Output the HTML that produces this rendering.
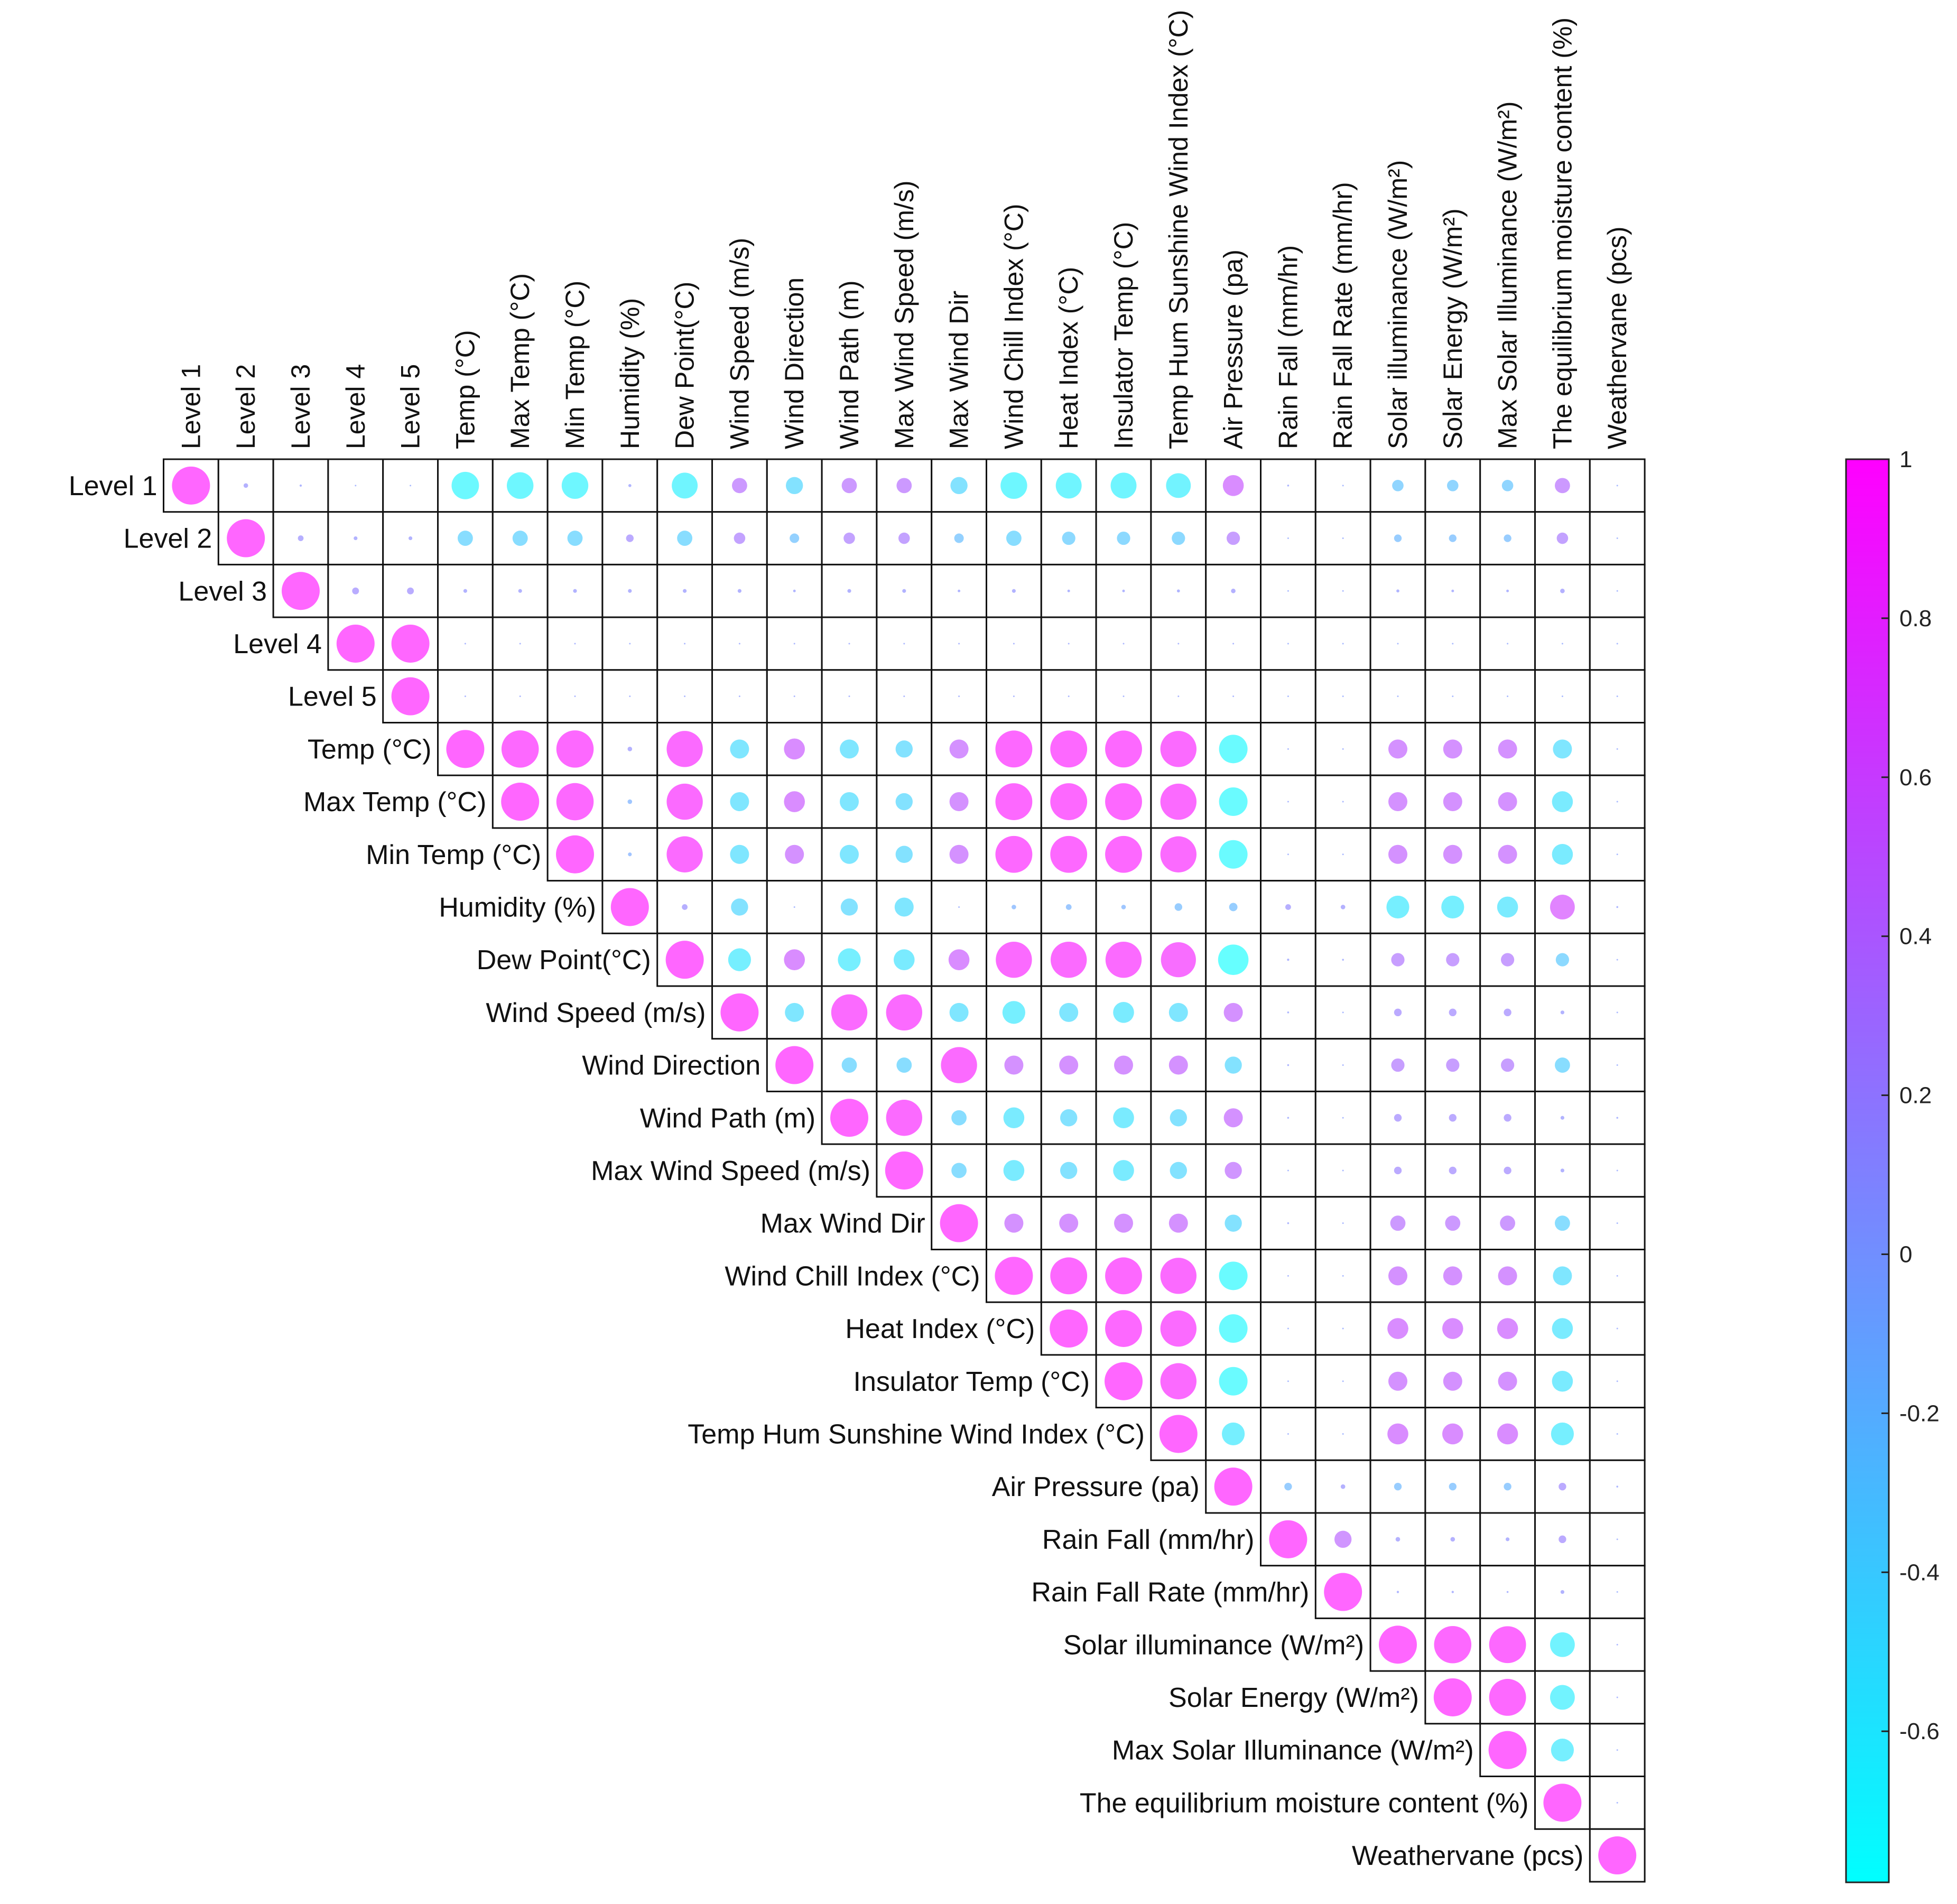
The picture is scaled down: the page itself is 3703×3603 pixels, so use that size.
<!DOCTYPE html>
<html><head><meta charset="utf-8"><style>
html,body{margin:0;padding:0;background:#fff;}
svg{display:block;font-family:"Liberation Sans",Arial,sans-serif;}
</style></head><body>
<svg id="chart" width="3703" height="3603" viewBox="0 0 3703 3603" xmlns="http://www.w3.org/2000/svg">
<g id="grid"></g>
<g id="dots"></g>
<g id="collabels"></g>
<g id="rowlabels"></g>
<g id="cbar"></g>
</svg>
<script>
const variables = ["Level 1","Level 2","Level 3","Level 4","Level 5","Temp (°C)","Max Temp (°C)","Min Temp (°C)","Humidity (%)","Dew Point(°C)","Wind Speed (m/s)","Wind Direction","Wind Path (m)","Max Wind Speed (m/s)","Max Wind Dir","Wind Chill Index (°C)","Heat Index (°C)","Insulator Temp (°C)","Temp Hum Sunshine Wind Index (°C)","Air Pressure (pa)","Rain Fall (mm/hr)","Rain Fall Rate (mm/hr)","Solar illuminance (W/m²)","Solar Energy (W/m²)","Max Solar Illuminance (W/m²)","The equilibrium moisture content (%)","Weathervane (pcs)"];
// upper triangle rows: row i holds values for columns i..26
const row0 = [1,.12,.06,.02,.01,-.72,-.7,-.7,.08,-.68,.4,-.45,.4,.4,-.45,-.7,-.68,-.68,-.65,.55,.05,.01,-.3,-.3,-.3,.4,.01];
const row1 = [1,.15,.1,.1,-.4,-.4,-.4,.2,-.4,.3,-.25,.3,.3,-.25,-.4,-.35,-.35,-.35,.35,.01,.01,-.2,-.2,-.2,.3,0];
const row2 = [1,.18,.18,.1,.1,.1,.1,.1,.1,.07,.1,.1,.07,.1,.07,.07,.08,.12,.01,0,.08,.07,.07,.12,.01];
const row3 = [1,1,.04,.04,.04,.03,.03,.04,.04,.04,.04,.04,.04,.04,.04,.04,.04,.01,0,.01,.01,.01,.01,.01];
const row4 = [1,.04,.04,.04,.03,.03,.04,.04,.04,.04,.04,.04,.04,.04,.04,.04,.01,0,.01,.01,.01,.01,.01];
const row5 = [1,.98,.98,.12,.95,-.5,.55,-.5,-.45,.5,.97,.97,.97,.95,-.75,.02,.02,.5,.5,.5,-.5,.01];
const row6 = [1,.98,-.12,.95,-.5,.55,-.5,-.45,.5,.97,.97,.97,.95,-.75,.03,.02,.5,.5,.5,-.55,.01];
const row7 = [1,-.1,.95,-.5,.5,-.5,-.45,.5,.97,.97,.97,.95,-.75,.02,.02,.5,.5,.5,-.55,.01];
const row8 = [1,.15,-.45,.01,-.45,-.5,.01,-.12,-.15,-.12,-.2,-.22,.15,.12,-.6,-.6,-.55,.65,.05];
const row9 = [1,-.6,.55,-.6,-.55,.55,.95,.95,.95,.92,-.8,.06,.05,.35,.35,.35,-.35,.02];
const row10 = [1,-.5,.95,.95,-.5,-.6,-.5,-.55,-.5,.5,.05,.02,.2,.2,.2,.1,.03];
const row11 = [1,-.4,-.4,.95,.5,.5,.5,.5,-.45,.05,.03,.35,.35,.35,-.4,.01];
const row12 = [1,.95,-.4,-.55,-.45,-.55,-.45,.5,.05,.02,.2,.2,.2,.1,.05];
const row13 = [1,-.4,-.55,-.45,-.55,-.45,.45,.02,.01,.2,.2,.2,.1,.02];
const row14 = [1,.5,.5,.5,.5,-.45,.05,.02,.4,.4,.4,-.4,.01];
const row15 = [1,.97,.97,.95,-.75,.02,.02,.5,.5,.5,-.5,.02];
const row16 = [1,.97,.95,-.75,.01,.01,.55,.55,.55,-.55,.02];
const row17 = [1,.95,-.75,.01,.01,.5,.5,.5,-.55,.02];
const row18 = [1,-.6,.01,0,.55,.55,.55,-.6,.01];
const row19 = [1,-.2,.12,-.2,-.2,-.2,.2,.05];
const row20 = [1,.45,.12,.12,.1,.2,.03];
const row21 = [1,.06,.06,.05,.1,0];
const row22 = [1,.98,.97,-.65,.04];
const row23 = [1,.97,-.65,.04];
const row24 = [1,-.6,.02];
const row25 = [1,.02];
const row26 = [1];
const cbTicks = [1,0.8,0.6,0.4,0.2,0,-0.2,-0.4,-0.6];
const cmin = -0.79, cmax = 1;

const rows=[row0,row1,row2,row3,row4,row5,row6,row7,row8,row9,row10,row11,row12,row13,row14,row15,row16,row17,row18,row19,row20,row21,row22,row23,row24,row25,row26];
const NS="http://www.w3.org/2000/svg";
const X0=309.5, Y0=869, CW=103.8, RH=99.7, RMAX=36;
const xCell=j=>X0+j*CW, yCell=i=>Y0+i*RH;
function cool(v){const t=Math.max(0,Math.min(1,(v-cmin)/(cmax-cmin)));return [Math.round(255*t),Math.round(255*(1-t)),255];}
function mk(tag,parent,attrs){const e=document.createElementNS(NS,tag);for(const k in attrs)e.setAttribute(k,attrs[k]);parent.appendChild(e);return e;}
const grid=document.getElementById('grid'),dots=document.getElementById('dots'),cl=document.getElementById('collabels'),rl=document.getElementById('rowlabels'),cb=document.getElementById('cbar');
const n=variables.length;
for(let i=0;i<n;i++){
  for(let k=0;k<rows[i].length;k++){
    const j=i+k, v=rows[i][k];
    const r=mk('rect',grid,{x:xCell(j),y:yCell(i),width:CW,height:RH,fill:'#fff',stroke:'#111','stroke-width':3});
    
    
    const c=cool(v);
    const d=mk('circle',dots,{cx:xCell(j)+CW/2,cy:yCell(i)+RH/2,r:Math.max(1.5,RMAX*Math.abs(v)),fill:'rgb('+c.join(',')+')','fill-opacity':0.6});
    
    
  }
  const t=mk('text',rl,{x:xCell(i)-12,y:yCell(i)+RH/2+18,'text-anchor':'end','font-size':52,fill:'#111'});
  t.textContent=variables[i];
  
  
  const cx=xCell(i)+CW/2+17;
  const ct=mk('text',cl,{x:cx,y:850,'font-size':50,fill:'#111',transform:'rotate(-90 '+cx+' 850)'});
  ct.textContent=variables[i];
  
  
}
// colorbar
const CBX=3493,CBW=81,CBT=869,CBB=3562;
const yv=v=>CBT+(cmax-v)*(CBB-CBT)/(cmax-cmin);
const defs=mk('defs',cb,{});
const lg=mk('linearGradient',defs,{id:'cg',x1:0,y1:0,x2:0,y2:1});
mk('stop',lg,{offset:0,'stop-color':'rgb(255,0,255)'});
mk('stop',lg,{offset:1,'stop-color':'rgb(0,255,255)'});
const bar=mk('rect',cb,{x:CBX,y:CBT,width:CBW,height:CBB-CBT,fill:'url(#cg)',stroke:'#222','stroke-width':3});


cbTicks.forEach(v=>{
  const y=yv(v);
  const tk=mk('line',cb,{x1:CBX+CBW-14,x2:CBX+CBW,y1:y,y2:y,stroke:'#222','stroke-width':3});
  
  
  const tl=mk('text',cb,{x:CBX+CBW+20,y:y+15,'font-size':44,fill:'#222'});
  tl.textContent=String(v);
  
  
});
</script>
</body></html>
